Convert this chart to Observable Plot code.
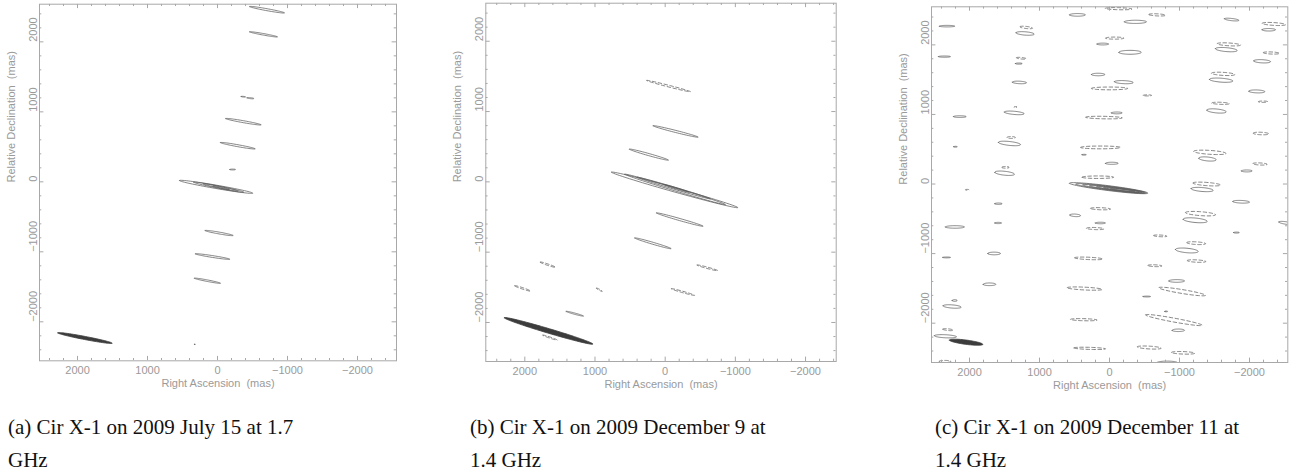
<!DOCTYPE html>
<html><head><meta charset="utf-8">
<script src="https://cdn.jsdelivr.net/npm/d3@7"></script>
<script src="https://cdn.jsdelivr.net/npm/@observablehq/plot@0.6"></script>
<style>
body{margin:0;background:#fff;}
#fig{position:relative;width:1290px;height:476px;overflow:hidden;background:#fff;}
#fig svg{position:absolute;overflow:visible;}
#fig svg text{white-space:pre;}
.cap{position:absolute;font-family:"Liberation Serif","Times New Roman",serif;font-size:21px;line-height:33px;color:#111;white-space:pre;}
</style></head><body><div id="fig"></div>
<script>
// ---- axis ticks (mas) ----
const majorTicks = [2000, 1000, 0, -1000, -2000];
const majorLabels = ["2000", "1000", "0", "\u22121000", "\u22122000"];
const minorTicks = [2400, 2200, 1800, 1600, 1400, 1200, 800, 600, 400, 200, -200, -400, -600, -800, -1200, -1400, -1600, -1800, -2200, -2400];
const xTitle = "Right Ascension  (mas)";
const yTitle = "Relative Declination  (mas)";

// ---- contours: [RA end 1, Dec end 1, RA end 2, Dec end 2, minor axis, level sign] (mas) ----
const contoursA = [
  [-461, 2504, -957, 2414, 28, 1],
  [-461, 2143, -857, 2071, 22, 1],
  [-339, 1219, -400, 1213, 10, 1],
  [-424, 1200, -519, 1190, 14, 1],
  [-119, 904, -624, 814, 28, 1],
  [-43, 561, -539, 471, 28, 1],
  [-176, 176, -257, 176, 12, 1],
  [543, 19, -504, -162, 48, 1],
  [338, -6, -376, -148, 32, 2],
  [200, -30, -290, -130, 22, 3],
  [60, -60, -170, -110, 12, 4],
  [176, -696, -224, -767, 26, 1],
  [314, -1029, -176, -1106, 26, 1],
  [329, -1377, -43, -1449, 22, 1],
  [328, -2320, 318, -2322, 8, 1]
];
const beamA = [2281, -2157, 1504, -2306, 45];

const contoursB = [
  [266, 1443, -361, 1282, 24, -1],
  [171, 798, -470, 636, 30, 1],
  [508, 465, -47, 309, 30, 1],
  [764, 138, -1035, -366, 60, 1],
  [575, 109, -859, -323, 42, 2],
  [399, 66, -646, -242, 30, 3],
  [19, -38, -337, -147, 18, 4],
  [123, -442, -541, -631, 30, 1],
  [432, -798, -85, -950, 28, 1],
  [-451, -1182, -750, -1263, 20, -1],
  [1785, -1140, 1562, -1215, 20, -1],
  [2146, -1477, 1918, -1553, 20, -1],
  [983, -1510, 897, -1557, 14, -1],
  [-85, -1519, -418, -1614, 20, -1],
  [1410, -1842, 1163, -1909, 18, 1],
  [1747, -2179, 1538, -2250, 16, -1]
];
const beamB = [2293, -1932, 1030, -2307, 65];

const contoursC = [
  // central source
  [571, 12, -548, -131, 70, 1],
  [480, 0, -530, -128, 56, 2],
  [380, -12, -510, -126, 46, 3],
  [280, -25, -490, -123, 38, 4],
  [180, -38, -460, -120, 30, 5],
  [80, -51, -420, -115, 22, 6],
  [-20, -64, -360, -107, 14, 7],
  // positive sidelobes
  [569, 2431, 345, 2431, 38, 1],
  [2429, 2269, 2210, 2269, 22, 1],
  [1334, 2174, 1076, 2154, 48, 1],
  [178, 2012, 12, 2012, 26, 1],
  [2443, 1831, 2272, 1831, 18, 1],
  [1343, 1731, 1248, 1731, 16, 1],
  [257, 1574, 67, 1574, 36, 1],
  [1386, 1465, 1186, 1455, 36, 1],
  [1500, 1035, 1220, 1010, 46, 1],
  [2228, 969, 2048, 969, 24, 1],
  [1586, 600, 1272, 566, 56, 1],
  [2225, 536, 2175, 536, 12, 1],
  [392, 421, 332, 421, 12, 1],
  [1638, 170, 1358, 140, 56, 1],
  [57, 298, -124, 298, 30, 1],
  [-214, 2331, -528, 2331, 46, 1],
  [-1643, 2375, -1848, 2352, 32, 1],
  [-2181, 2217, -2371, 2217, 36, 1],
  [-1514, 1945, -1824, 1918, 56, 1],
  [-134, 1893, -453, 1893, 56, 1],
  [-2062, 1770, -2300, 1758, 46, 1],
  [-1429, 1505, -1762, 1480, 56, 1],
  [-72, 1470, -338, 1458, 44, 1],
  [-1991, 1335, -2219, 1327, 42, 1],
  [-1391, 1063, -1667, 1037, 56, 1],
  [-29, 1022, -181, 1022, 26, 1],
  [-1276, 372, -1524, 348, 56, 1],
  [-1886, 188, -2038, 188, 28, 1],
  [-1167, -66, -1481, -92, 56, 1],
  [-1762, -250, -2000, -260, 38, 1],
  [-1053, -505, -1396, -537, 64, 1],
  [-2420, -545, -2620, -575, 36, 1],
  [-1774, -698, -1854, -698, 14, 1],
  [-943, -940, -1267, -970, 64, 1],
  [-848, -1393, -1072, -1393, 38, 1],
  [-480, -1617, -586, -1617, 12, 1],
  [-790, -1831, -830, -1831, 10, 1],
  [-895, -2102, -1071, -2102, 36, 1],
  [-674, -2570, -974, -2570, 50, 1],
  [1638, -283, 1534, -283, 20, 1],
  [2343, -617, 2072, -617, 36, 1],
  [1638, -560, 1542, -560, 18, 1],
  [566, -445, 414, -455, 36, 1],
  [200, -560, 58, -560, 22, 1],
  [1738, -998, 1558, -998, 38, 1],
  [2381, -1055, 2271, -1055, 12, 1],
  [1804, -1441, 1624, -1441, 38, 1],
  [2247, -1674, 2177, -1674, 24, 1],
  [2376, -1750, 2119, -1770, 46, 1],
  [2500, -2180, 2186, -2196, 44, 1],
  // negative sidelobes
  [1280, 2260, 1100, 2240, 30, -1],
  [60, 2525, -320, 2515, 30, -1],
  [-562, 2437, -800, 2425, 30, -1],
  [-2181, 2310, -2514, 2290, 40, -1],
  [57, 2097, -205, 2097, 30, -1],
  [-1538, 2017, -1872, 1997, 40, -1],
  [-2196, 1888, -2428, 1878, 30, -1],
  [1330, 1815, 1190, 1800, 22, -1],
  [260, 1374, -260, 1374, 40, -1],
  [-1457, 1593, -1790, 1573, 44, -1],
  [-481, 1274, -601, 1274, 16, -1],
  [-2126, 1183, -2260, 1183, 20, -1],
  [-1462, 1165, -1710, 1155, 30, -1],
  [1363, 1107, 1323, 1107, 10, -1],
  [342, 960, -182, 950, 36, -1],
  [-2052, 731, -2276, 721, 36, -1],
  [1465, 669, 1345, 669, 26, -1],
  [414, 526, -157, 526, 40, -1],
  [-1202, 470, -1664, 440, 56, -1],
  [-2048, 293, -2252, 283, 30, -1],
  [1538, 240, 1434, 240, 24, -1],
  [393, 98, -59, 98, 36, -1],
  [-1190, 15, -1586, -15, 46, -1],
  [-1085, -410, -1515, -442, 56, -1],
  [-629, -740, -819, -750, 24, -1],
  [-1103, -842, -1373, -858, 38, -1],
  [-1110, -1100, -1376, -1114, 34, -1],
  [-548, -1170, -748, -1178, 26, -1],
  [-705, -1490, -1371, -1600, 56, -1],
  [-514, -1880, -1324, -2030, 56, -1],
  [-396, -2340, -738, -2360, 40, -1],
  [-886, -2420, -1218, -2432, 36, -1],
  [272, -350, -14, -360, 30, -1],
  [329, -635, 81, -645, 30, -1],
  [500, -1060, 96, -1078, 34, -1],
  [605, -1490, 105, -1515, 40, -1],
  [557, -1945, 177, -1955, 30, -1],
  [509, -2355, 57, -2369, 30, -1],
  [2382, -2085, 2232, -2101, 24, -1],
  [2058, -83, 2008, -83, 12, -1],
  [2435, -2550, 2265, -2550, 30, -1]
];
const beamC = [2286, -2242, 1810, -2305, 62];

// ---- ellipse outlines from the contour table ----
function outlines(list) {
  const pts = [];
  list.forEach((c, i) => {
    const [ra1, de1, ra2, de2, w, lev] = c;
    const cx = (ra1 + ra2) / 2, cy = (de1 + de2) / 2;
    const ux = (ra1 - ra2) / 2, uy = (de1 - de2) / 2;
    const L = Math.hypot(ux, uy) || 1;
    const vx = -uy / L * w / 2, vy = ux / L * w / 2;
    const n = 72;
    for (let k = 0; k < n; k++) {
      const t = 2 * Math.PI * k / n;
      pts.push({id: i, lev, x: cx + ux * Math.cos(t) + vx * Math.sin(t), y: cy + uy * Math.cos(t) + vy * Math.sin(t)});
    }
  });
  return pts;
}

function panel(o) {
  const pts = outlines(o.contours);
  const bpts = outlines([o.beam.concat([1])]);
  const fw = o.width - o.mL - o.mR, fh = o.height - o.mT - o.mB;
  const maj = 4.4, mnr = 2.3, ax = "#a8a8a8", lab = "#9a9a9a", ln = "#5c5c5c";
  const svg = Plot.plot({
    width: o.width, height: o.height,
    marginLeft: o.mL, marginRight: o.mR, marginTop: o.mT, marginBottom: o.mB,
    x: {domain: o.xDomain, axis: null},
    y: {domain: o.yDomain, axis: null},
    style: {fontFamily: "'Liberation Sans', Arial, sans-serif", fontSize: "11px", background: "transparent", overflow: "visible"},
    marks: [
      Plot.line(bpts, {x: "x", y: "y", z: "id", curve: "linear-closed", fill: "#3c3c3c", stroke: "#3c3c3c", strokeWidth: 0.8, clip: true}),
      Plot.line(pts.filter(d => d.lev > 0), {x: "x", y: "y", z: "id", curve: "linear-closed", stroke: ln, strokeWidth: 0.75, clip: true}),
      Plot.line(pts.filter(d => d.lev < 0), {x: "x", y: "y", z: "id", curve: "linear-closed", stroke: ln, strokeWidth: 0.75, strokeDasharray: "3.5,2.5", clip: true}),
      Plot.tickX(minorTicks, {x: d => d, insetTop: fh - mnr, stroke: ax, clip: true}),
      Plot.tickX(minorTicks, {x: d => d, insetBottom: fh - mnr, stroke: ax, clip: true}),
      Plot.tickX(majorTicks, {x: d => d, insetTop: fh - maj, stroke: ax, clip: true}),
      Plot.tickX(majorTicks, {x: d => d, insetBottom: fh - maj, stroke: ax, clip: true}),
      Plot.tickY(minorTicks, {y: d => d, insetRight: fw - mnr, stroke: ax, clip: true}),
      Plot.tickY(minorTicks, {y: d => d, insetLeft: fw - mnr, stroke: ax, clip: true}),
      Plot.tickY(majorTicks, {y: d => d, insetRight: fw - maj, stroke: ax, clip: true}),
      Plot.tickY(majorTicks, {y: d => d, insetLeft: fw - maj, stroke: ax, clip: true}),
      Plot.frame({stroke: ax, strokeWidth: 1}),
      Plot.text(majorTicks, {x: d => d, text: (d, i) => majorLabels[i], frameAnchor: "bottom", dy: 9.5, lineAnchor: "middle", fill: lab}),
      Plot.text(majorTicks, {y: d => d, text: (d, i) => majorLabels[i], frameAnchor: "left", dx: -6.5, rotate: -90, lineAnchor: "middle", fill: lab}),
      Plot.text([xTitle], {text: d => d, frameAnchor: "bottom", dy: 22.5, lineAnchor: "middle", fill: lab}),
      Plot.text([yTitle], {text: d => d, frameAnchor: "left", dx: -28, rotate: -90, lineAnchor: "middle", fill: lab})
    ]
  });
  svg.style.left = o.left + "px";
  svg.style.top = o.top + "px";
  return svg;
}

const fig = document.getElementById("fig");
fig.appendChild(panel({contours: contoursA, beam: beamA, xDomain: [2543, -2557], yDomain: [-2557, 2538],
  left: 0, top: 0, width: 430, height: 400, mL: 39, mR: 34, mT: 3.7, mB: 39.7}));
fig.appendChild(panel({contours: contoursB, beam: beamB, xDomain: [2556, -2437], yDomain: [-2555, 2541],
  left: 430, top: 0, width: 420, height: 400, mL: 55.3, mR: 14.3, mT: 2.7, mB: 39}));
fig.appendChild(panel({contours: contoursC, beam: beamC, xDomain: [2543, -2547], yDomain: [-2565, 2547],
  left: 860, top: 0, width: 430, height: 400, mL: 71, mR: 2.7, mT: 6.3, mB: 38}));

const captions = [
  ["(a) Cir X-1 on 2009 July 15 at 1.7", "GHz"],
  ["(b) Cir X-1 on 2009 December 9 at", "1.4 GHz"],
  ["(c) Cir X-1 on 2009 December 11 at", "1.4 GHz"]
];
const capLeft = [8, 470, 935];
captions.forEach((c, i) => {
  const d = document.createElement("div");
  d.className = "cap";
  d.style.left = capLeft[i] + "px";
  d.style.top = "411px";
  d.textContent = c.join("\n");
  fig.appendChild(d);
});
</script></body></html>
